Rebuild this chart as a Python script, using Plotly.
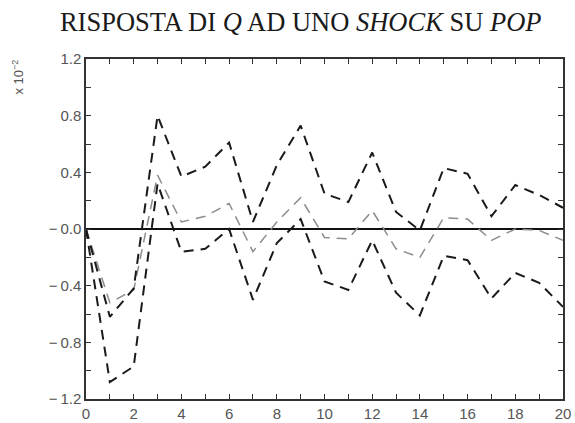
import plotly.graph_objects as go

steps = list(range(21))
upper = [0, -0.62, -0.42, 0.80, 0.37, 0.44, 0.61, 0.05, 0.45, 0.73, 0.25, 0.19, 0.54, 0.12, -0.01, 0.43, 0.39, 0.09, 0.31, 0.24, 0.15]
mean = [0, -0.52, -0.43, 0.38, 0.05, 0.09, 0.18, -0.16, 0.05, 0.22, -0.06, -0.07, 0.13, -0.14, -0.20, 0.08, 0.07, -0.08, 0.00, -0.01, -0.08]
lower = [0, -1.08, -0.97, 0.32, -0.16, -0.14, 0.00, -0.50, -0.10, 0.07, -0.37, -0.43, -0.08, -0.45, -0.61, -0.19, -0.22, -0.49, -0.31, -0.38, -0.55]

ytickvals = [1.2, 0.8, 0.4, 0.0, -0.4, -0.8, -1.2]
yticktext = ["1.2", "0.8", "0.4", "\u2212\u20090.0", "\u2212\u20090.4", "\u2212\u20090.8", "\u2212\u20091.2"]
xtickvals = list(range(0, 21, 2))

fig = go.Figure()
fig.add_trace(go.Scatter(x=steps, y=mean, mode="lines",
                         line=dict(color="#8c8c8c", width=1.5, dash="10px,7px")))
fig.add_trace(go.Scatter(x=steps, y=upper, mode="lines",
                         line=dict(color="#1a1a1a", width=2, dash="10px,7px")))
fig.add_trace(go.Scatter(x=steps, y=lower, mode="lines",
                         line=dict(color="#1a1a1a", width=2, dash="10px,7px")))

tickfont = dict(family="Liberation Sans, Arial, sans-serif", size=15, color="#555555")

fig.update_layout(
    width=575, height=423,
    margin=dict(l=86, r=12, t=59, b=24),
    paper_bgcolor="white", plot_bgcolor="white",
    showlegend=False,
    title=dict(text="RISPOSTA DI <i>Q</i> AD UNO <i>SHOCK</i> SU <i>POP</i>",
               x=0.523, xanchor="center", y=0.948, yanchor="middle",
               font=dict(family="Liberation Serif, Times New Roman, serif", size=26.5, color="#1a1a1a")),
    xaxis=dict(range=[0, 20], tickvals=xtickvals, ticks="inside", ticklen=5, tickwidth=1,
               tickcolor="#333", showgrid=False, zeroline=False, automargin=False,
               showline=True, linecolor="#333", linewidth=1.5, mirror="ticks",
               tickfont=tickfont,
               minor=dict(dtick=1, ticks="inside", ticklen=5, tickcolor="#333", showgrid=False)),
    yaxis=dict(range=[-1.2, 1.2], tickvals=ytickvals, ticktext=yticktext, ticks="inside",
               ticklen=5, tickwidth=1, tickcolor="#333", showgrid=False, automargin=False,
               zeroline=True, zerolinecolor="#111", zerolinewidth=2,
               showline=True, linecolor="#333", linewidth=1.5, mirror="ticks",
               tickfont=tickfont,
               minor=dict(dtick=0.2, tick0=0, ticks="inside", ticklen=5, tickcolor="#333", showgrid=False)),
    annotations=[dict(text="x 10<sup>\u22122</sup>", xref="paper", yref="paper",
                      x=-0.143, y=1.005, xanchor="center", yanchor="top", textangle=-90,
                      showarrow=False,
                      font=dict(family="Liberation Sans, Arial, sans-serif", size=13, color="#555555"))],
)

fig.write_html("out.html", config={"displayModeBar": False},
               post_script="document.body.style.margin='0';document.body.style.padding='0';")
